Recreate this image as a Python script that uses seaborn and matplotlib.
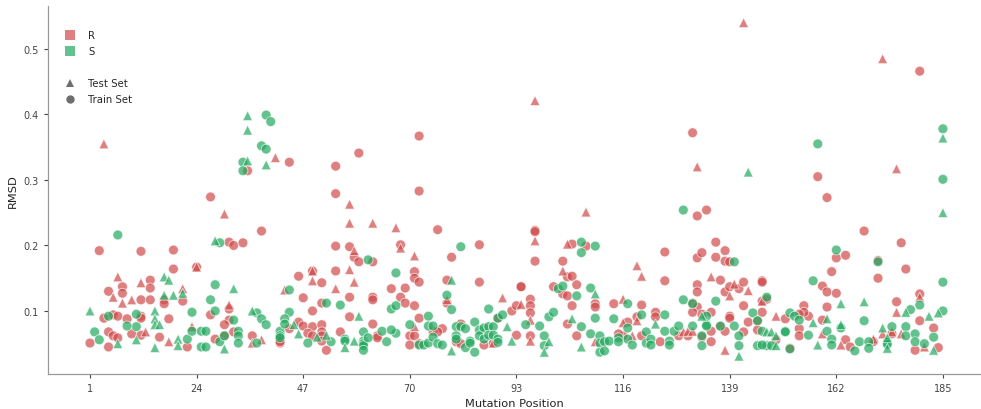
import numpy as np
import pandas as pd
import matplotlib
matplotlib.use("Agg")
import matplotlib.pyplot as plt
from matplotlib.lines import Line2D
import seaborn as sns

# ---- data (position, RMSD) ----
r_train = [(27,0.274),(38,0.222),(31,0.205),(32,0.200),(34,0.204),(3,0.192),(12,0.191),(19,0.193),(19,0.164),(24,0.167),
(14,0.147),(14,0.135),(8,0.137),(8,0.127),(5,0.130),(12,0.117),(14,0.117),(17,0.117),(17,0.111),(21,0.115),(27,0.094),
(31,0.103),(31,0.086),(30,0.079),(4,0.089),(6,0.094),(7,0.092),(9,0.088),(12,0.092),(12,0.089),(18,0.088),(1,0.051),
(5,0.068),(6,0.062),(7,0.059),(5,0.045),(10,0.065),(12,0.063),(16,0.060),(22,0.045),(28,0.057),(30,0.062),(32,0.068),
(36,0.062),(42,0.057),(42,0.051),(35,0.314),(44,0.327),(59,0.341),(54,0.321),(54,0.279),(72,0.367),(72,0.283),
(76,0.224),(54,0.199),(57,0.198),(58,0.182),(59,0.175),(62,0.175),(68,0.201),(79,0.182),(85,0.201),(49,0.161),(54,0.161),
(71,0.160),(71,0.150),(72,0.144),(46,0.153),(51,0.143),(66,0.134),(69,0.135),(78,0.147),(85,0.144),(94,0.137),(47,0.120),
(62,0.121),(62,0.117),(57,0.121),(68,0.121),(69,0.112),(78,0.112),(51,0.112),(49,0.100),(71,0.108),(92,0.100),(93,0.108),
(46,0.083),(47,0.077),(49,0.076),(51,0.079),(57,0.091),(62,0.080),(72,0.089),(77,0.073),(81,0.080),(89,0.089),(93,0.063),
(42,0.053),(44,0.073),(48,0.066),(49,0.062),(51,0.068),(51,0.062),(51,0.054),(52,0.040),(55,0.068),(63,0.062),(63,0.059),
(70,0.062),(70,0.048),(71,0.062),(72,0.050),(75,0.069),(76,0.068),(80,0.053),(81,0.050),(86,0.048),(88,0.051),
(97,0.223),(97,0.221),(97,0.176),(105,0.202),(108,0.199),(103,0.176),(104,0.152),(105,0.153),(106,0.140),(101,0.137),
(103,0.126),(104,0.123),(105,0.108),(110,0.111),(110,0.106),(94,0.137),(96,0.118),(96,0.108),(96,0.097),(96,0.062),
(104,0.080),(106,0.062),(114,0.111),(120,0.109),(117,0.083),(119,0.091),(123,0.098),(123,0.091),(125,0.190),(125,0.146),
(116,0.062),(115,0.065),(120,0.062),(124,0.053),(128,0.062),(130,0.062),(131,0.112),(132,0.106),(133,0.095),(131,0.098),
(132,0.140),(132,0.129),(132,0.181),(133,0.189),(135,0.098),(135,0.069),(135,0.053),(136,0.205),(136,0.182),(138,0.192),
(138,0.176),(139,0.175),(137,0.147),(138,0.129),(139,0.137),(141,0.134),(142,0.144),(146,0.146),(142,0.108),(139,0.092),
(139,0.089),(137,0.076),(138,0.069),(142,0.068),(143,0.083),(145,0.085),(145,0.071),(133,0.060),(131,0.372),(132,0.245),
(134,0.254),(180,0.466),(158,0.305),(160,0.273),(168,0.222),(176,0.204),(162,0.181),(164,0.185),(171,0.177),(171,0.150),
(177,0.164),(161,0.160),(159,0.138),(160,0.129),(162,0.127),(146,0.144),(160,0.106),(175,0.114),(180,0.126),(180,0.085),
(183,0.074),(146,0.115),(147,0.118),(146,0.098),(155,0.108),(156,0.092),(155,0.098),(154,0.095),(151,0.088),(159,0.086),
(154,0.073),(154,0.062),(149,0.056),(152,0.043),(164,0.056),(165,0.045),(170,0.053),(174,0.065),(179,0.040),(184,0.044)]

r_test = [(4,0.355),(41,0.334),(30,0.248),(7,0.152),(12,0.143),(21,0.134),(6,0.121),(10,0.117),(8,0.112),(24,0.167),
(31,0.109),(13,0.068),(18,0.053),(23,0.076),(36,0.051),(38,0.056),(57,0.263),(57,0.234),(62,0.234),(67,0.227),(58,0.192),
(68,0.196),(71,0.184),(49,0.161),(57,0.163),(49,0.146),(58,0.144),(43,0.132),(54,0.134),(78,0.117),(90,0.120),(71,0.076),
(88,0.051),(96,0.054),(142,0.540),(97,0.421),(132,0.320),(108,0.251),(97,0.207),(104,0.202),(103,0.161),(96,0.086),
(94,0.110),(110,0.053),(116,0.118),(119,0.169),(120,0.153),(116,0.082),(119,0.085),(118,0.062),(129,0.068),(130,0.069),
(131,0.069),(135,0.152),(139,0.123),(140,0.141),(143,0.131),(138,0.040),(146,0.115),(172,0.485),(175,0.317),(175,0.098),
(180,0.121),(149,0.092),(159,0.065),(163,0.048),(172,0.065),(174,0.068),(176,0.065),(181,0.045),(170,0.057)]

s_train = [(39,0.399),(40,0.389),(38,0.352),(39,0.347),(34,0.327),(34,0.314),(7,0.216),(29,0.204),(28,0.140),(27,0.117),
(23,0.098),(28,0.100),(32,0.086),(37,0.097),(38,0.088),(39,0.079),(5,0.092),(11,0.095),(11,0.076),(2,0.068),(3,0.056),
(9,0.077),(22,0.057),(23,0.069),(25,0.069),(26,0.069),(25,0.045),(26,0.045),(29,0.053),(30,0.062),(33,0.069),(33,0.062),
(33,0.051),(37,0.051),(42,0.069),(42,0.062),(42,0.059),(61,0.178),(81,0.198),(67,0.158),(44,0.132),(78,0.124),(52,0.112),
(55,0.109),(66,0.103),(67,0.108),(79,0.102),(87,0.103),(44,0.098),(43,0.088),(43,0.080),(74,0.092),(70,0.079),(74,0.077),
(75,0.077),(80,0.076),(81,0.076),(82,0.073),(84,0.083),(85,0.071),(86,0.074),(87,0.076),(88,0.076),(89,0.089),(90,0.094),
(48,0.051),(53,0.053),(56,0.057),(56,0.054),(60,0.068),(60,0.054),(60,0.050),(60,0.047),(60,0.040),(61,0.059),(64,0.069),
(65,0.053),(67,0.066),(66,0.071),(72,0.048),(73,0.048),(74,0.051),(75,0.060),(76,0.050),(77,0.048),(80,0.062),(80,0.057),
(82,0.044),(83,0.054),(83,0.051),(84,0.037),(85,0.062),(86,0.057),(87,0.063),(88,0.063),(89,0.057),(89,0.052),
(129,0.254),(107,0.205),(107,0.189),(110,0.199),(102,0.134),(103,0.138),(106,0.123),(109,0.135),(110,0.089),(95,0.079),
(98,0.077),(100,0.091),(101,0.098),(99,0.062),(99,0.047),(107,0.076),(109,0.065),(111,0.062),(111,0.051),(111,0.037),
(112,0.053),(113,0.054),(112,0.039),(117,0.111),(114,0.088),(120,0.094),(125,0.094),(117,0.074),(117,0.057),(115,0.059),
(115,0.053),(118,0.048),(121,0.068),(121,0.051),(122,0.057),(122,0.048),(125,0.069),(126,0.054),(126,0.048),(127,0.069),
(128,0.077),(131,0.077),(129,0.117),(131,0.111),(134,0.092),(134,0.079),(134,0.077),(133,0.062),(133,0.047),(136,0.115),
(140,0.175),(137,0.077),(140,0.077),(144,0.097),(145,0.085),(141,0.062),(141,0.047),(145,0.047),(147,0.047),(147,0.121),
(185,0.378),(158,0.355),(185,0.301),(162,0.193),(171,0.175),(185,0.144),(157,0.146),(180,0.109),(178,0.102),(185,0.100),
(177,0.076),(152,0.097),(153,0.092),(154,0.086),(163,0.074),(151,0.069),(151,0.068),(156,0.063),(160,0.069),(161,0.057),
(161,0.048),(148,0.047),(152,0.042),(146,0.048),(146,0.069),(166,0.039),(167,0.053),(168,0.085),(169,0.053),(169,0.043),
(173,0.052),(173,0.049),(174,0.076),(177,0.062),(179,0.065),(179,0.053),(181,0.050),(183,0.060)]

s_test = [(35,0.398),(35,0.376),(35,0.329),(39,0.323),(28,0.207),(17,0.152),(18,0.147),(32,0.134),(19,0.124),(21,0.127),
(17,0.124),(36,0.100),(1,0.100),(15,0.100),(15,0.088),(15,0.079),(16,0.079),(7,0.050),(11,0.056),(15,0.044),(20,0.057),
(20,0.047),(30,0.042),(79,0.147),(59,0.092),(45,0.079),(46,0.065),(50,0.060),(52,0.063),(56,0.044),(58,0.054),(79,0.039),
(91,0.076),(92,0.054),(143,0.312),(110,0.126),(105,0.088),(99,0.037),(100,0.053),(107,0.045),(123,0.080),(133,0.092),
(141,0.031),(147,0.068),(185,0.364),(185,0.250),(163,0.111),(168,0.114),(177,0.098),(184,0.097),(182,0.092),(157,0.082),
(160,0.088),(163,0.079),(158,0.048),(148,0.068),(149,0.062),(149,0.047),(172,0.074),(173,0.059),(173,0.043),(183,0.040)]

x_ticks = [1, 24, 47, 70, 93, 116, 139, 162, 185]
y_ticks = [0.1, 0.2, 0.3, 0.4, 0.5]
colors = {"R": "#d04a4a", "S": "#22a85e"}
markers = {"Test Set": "^", "Train Set": "o"}

rows = []
for grp, res, st in [(r_train, "R", "Train Set"), (r_test, "R", "Test Set"),
                     (s_train, "S", "Train Set"), (s_test, "S", "Test Set")]:
    for p, v in grp:
        rows.append({"Mutation Position": p, "RMSD": v, "Resistance": res, "Set": st})
df = pd.DataFrame(rows)

sns.set_style("ticks")
plt.rcParams["font.family"] = ["DejaVu Sans"]

fig = plt.figure(figsize=(9.81, 4.10), dpi=100)
ax = fig.add_axes([48/981, (410-374.5)/410, (980-48)/981, (374.5-7)/410])

sns.scatterplot(data=df, x="Mutation Position", y="RMSD", hue="Resistance", style="Set",
                palette=colors, markers=markers, hue_order=["R", "S"],
                style_order=["Test Set", "Train Set"], s=50, alpha=0.7,
                edgecolor="white", linewidth=0.6, ax=ax, legend=False)

ax.set_xlim(-8.06, 193.0)
ax.set_ylim(0.0045, 0.5655)
ax.set_xticks(x_ticks)
ax.set_xticklabels([str(t) for t in x_ticks])
ax.set_yticks(y_ticks)
ax.set_yticklabels([f"{t:.1f}" for t in y_ticks])
ax.tick_params(labelsize=7, colors="#444444", length=3, width=0.8)
for s in ["left", "bottom"]:
    ax.spines[s].set_color("#999999")
    ax.spines[s].set_linewidth(0.9)
sns.despine(ax=ax)
ax.set_xlabel("Mutation Position", fontsize=8.2, color="#222222")
ax.set_ylabel("RMSD", fontsize=8.2, color="#222222")

handles = [
    Line2D([], [], marker="s", linestyle="", color=colors["R"], alpha=0.7, markersize=6.5, markeredgewidth=0),
    Line2D([], [], marker="s", linestyle="", color=colors["S"], alpha=0.7, markersize=6.5, markeredgewidth=0),
    Line2D([], [], linestyle="", marker=None),
    Line2D([], [], marker="^", linestyle="", color="#555555", alpha=0.85, markersize=6, markeredgewidth=0),
    Line2D([], [], marker="o", linestyle="", color="#555555", alpha=0.85, markersize=6, markeredgewidth=0),
]
labels = ["R", "S", "", "Test Set", "Train Set"]
ax.legend(handles, labels, loc="upper left", bbox_to_anchor=(57/981, 1-26/410),
          bbox_transform=fig.transFigure, frameon=False, fontsize=7.3,
          handletextpad=1.1, labelspacing=0.6, borderpad=0, handlelength=1.5)

fig.savefig("out.png", dpi=100)
